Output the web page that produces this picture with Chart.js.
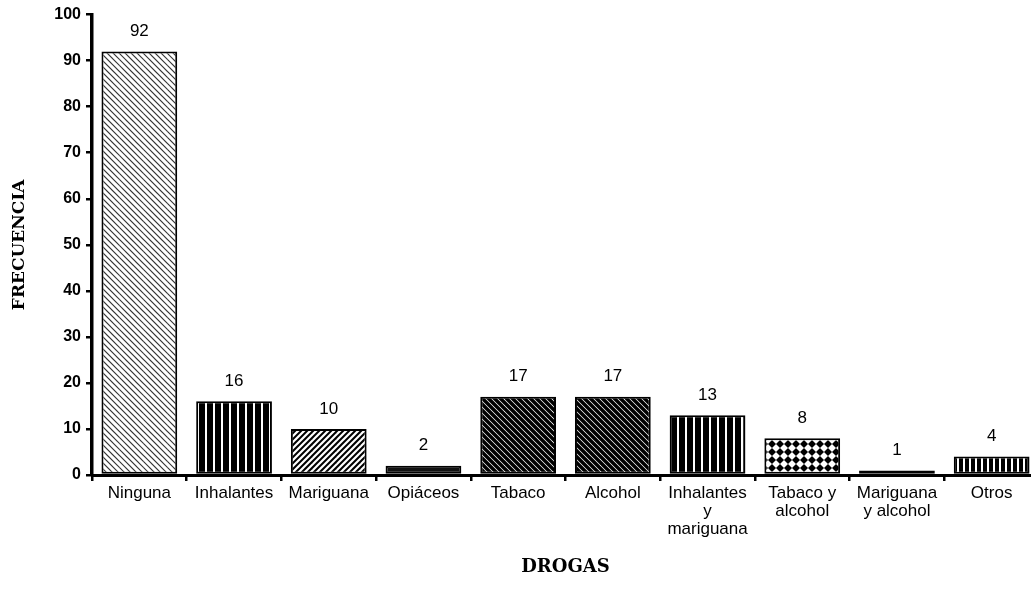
<!DOCTYPE html>
<html><head><meta charset="utf-8">
<script src="https://cdn.jsdelivr.net/npm/chart.js@4/dist/chart.umd.min.js"></script>
<style>html,body{margin:0;padding:0;background:#fff;overflow:hidden;width:1031px;height:594px}canvas{display:block}</style>
</head><body>
<canvas id="c" width="1042" height="594"></canvas>
<script>
const categories = ["Ninguna", "Inhalantes", "Mariguana", "Opiáceos", "Tabaco", "Alcohol", ["Inhalantes", "y", "mariguana"], ["Tabaco y", "alcohol"], ["Mariguana", "y alcohol"], "Otros"];
const frecuencia = [92, 16, 10, 2, 17, 17, 13, 8, 1, 4];
const yTicks = [0, 10, 20, 30, 40, 50, 60, 70, 80, 90, 100];
const patternKinds = ["lightBack", "vert", "fwd", "dark", "darkBack", "darkBack", "vert2", "check", "dark", "vert3"];

function makePattern(kind) {
  const p = document.createElement('canvas');
  const s = 24; p.width = s; p.height = s;
  const g = p.getContext('2d');
  g.fillStyle = '#fff'; g.fillRect(0, 0, s, s);
  g.strokeStyle = '#000'; g.fillStyle = '#000';
  if (kind === 'lightBack' || kind === 'darkBack' || kind === 'fwd') {
    const step = 6;
    g.lineWidth = kind === 'lightBack' ? 1.2 : (kind === 'darkBack' ? 3.5 : 2);
    g.strokeStyle = kind === 'lightBack' ? '#333' : '#000';
    for (let i = -3 * s; i <= 3 * s; i += step) {
      g.beginPath();
      if (kind === 'fwd') { g.moveTo(i - s, 2 * s); g.lineTo(i + 2 * s, -s); }
      else { g.moveTo(i - s, -s); g.lineTo(i + 2 * s, 2 * s); }
      g.stroke();
    }
  } else if (kind === 'vert' || kind === 'vert2' || kind === 'vert3') {
    const per = kind === 'vert3' ? 6 : 8;
    const white = 2;
    const q = document.createElement('canvas'); q.width = per; q.height = 4;
    const h = q.getContext('2d');
    h.fillStyle = '#000'; h.fillRect(0, 0, per, 4);
    h.fillStyle = '#fff'; h.fillRect(per - white - 1, 0, white, 4);
    return g.createPattern(q, 'repeat');
  } else if (kind === 'check') {
    const q = document.createElement('canvas'); q.width = 8; q.height = 8;
    const h = q.getContext('2d');
    h.fillStyle = '#fff'; h.fillRect(0, 0, 8, 8);
    h.fillStyle = '#000';
    h.beginPath(); h.moveTo(4, 0); h.lineTo(8, 4); h.lineTo(4, 8); h.lineTo(0, 4); h.closePath(); h.fill();
    return g.createPattern(q, 'repeat');
  } else if (kind === 'dark') {
    g.fillStyle = '#111'; g.fillRect(0, 0, s, s);
  }
  return g.createPattern(p, 'repeat');
}

const valueLabels = {
  id: 'valueLabels',
  afterDatasetsDraw(chart) {
    const ctx = chart.ctx;
    const meta = chart.getDatasetMeta(0);
    ctx.save();
    ctx.font = '17px "Liberation Sans", Arial, sans-serif';
    ctx.fillStyle = '#000';
    ctx.textAlign = 'center';
    ctx.textBaseline = 'middle';
    meta.data.forEach((bar, i) => {
      ctx.fillText(String(frecuencia[i]), bar.x, bar.y - 20);
    });
    ctx.restore();
  }
};

const ctx = document.getElementById('c').getContext('2d');
new Chart(ctx, {
  type: 'bar',
  data: {
    labels: categories,
    datasets: [{
      data: frecuencia,
      backgroundColor: patternKinds.map(makePattern),
      borderColor: '#000',
      borderWidth: 2,
      borderSkipped: false,
      barPercentage: 0.8,
      categoryPercentage: 1.0
    }]
  },
  options: {
    responsive: false,
    animation: false,
    layout: { padding: { top: 13, right: 3, left: 0, bottom: 0 } },
    plugins: { legend: { display: false }, tooltip: { enabled: false } },
    scales: {
      x: {
        offset: true,
        grid: { display: true, offset: true, drawOnChartArea: false, drawTicks: true, tickLength: 6, color: '#000', lineWidth: 2.5 },
        border: { display: true, color: '#000', width: 3 },
        ticks: { color: '#000', font: { family: '"Liberation Sans", Arial, sans-serif', size: 17, lineHeight: 1.06 }, padding: 3, maxRotation: 0, autoSkip: false },
        title: { display: true, text: 'DROGAS', color: '#000', font: { family: '"DejaVu Serif", serif', size: 18, weight: 'bold' }, padding: { top: 0, bottom: 16 } },
        afterFit(scale) { scale.height = 119; }
      },
      y: {
        min: 0, max: 100,
        afterBuildTicks(scale) { scale.ticks = yTicks.map(v => ({ value: v })); },
        grid: { display: true, drawOnChartArea: false, drawTicks: true, tickLength: 6, color: '#000', lineWidth: 2.5 },
        border: { display: true, color: '#000', width: 3.5 },
        ticks: { color: '#000', font: { family: '"Liberation Sans", Arial, sans-serif', size: 16, weight: 'bold' }, padding: 5 },
        title: { display: true, text: 'FRECUENCIA', color: '#000', font: { family: '"DejaVu Serif", serif', size: 17, weight: 'bold' }, padding: { top: 9, bottom: 0 } },
        afterFit(scale) { scale.width = 92; }
      }
    }
  },
  plugins: [valueLabels]
});
</script>
</body></html>
